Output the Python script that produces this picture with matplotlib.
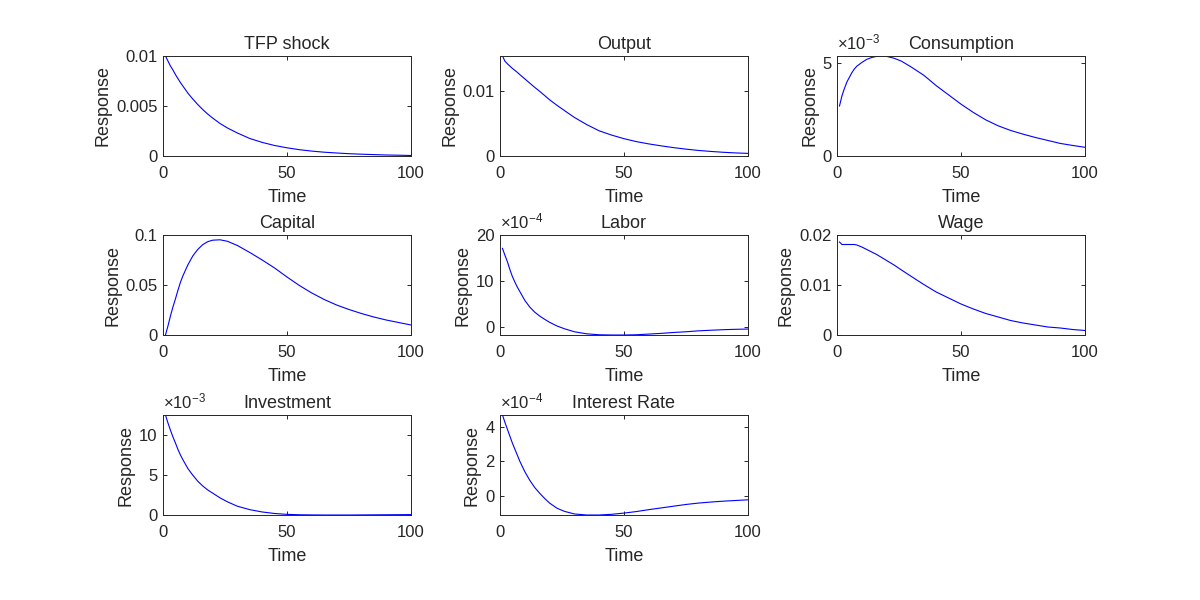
import numpy as np
import matplotlib
matplotlib.use("Agg")
import matplotlib.pyplot as plt
from matplotlib.ticker import FuncFormatter, FixedLocator

plt.rcParams["font.family"] = ["Liberation Sans", "DejaVu Sans"]
plt.rcParams["mathtext.fontset"] = "custom"
plt.rcParams["mathtext.rm"] = "Liberation Sans"
plt.rcParams["mathtext.it"] = "Liberation Sans:italic"
plt.rcParams["mathtext.default"] = "regular"

# ---------------- data ----------------
periods = [1, 2, 3, 4, 5, 6, 7, 8, 10, 12, 14, 16, 18, 20, 23, 26, 30, 35, 40, 45, 50,
           55, 60, 65, 70, 75, 80, 85, 90, 95, 100]

tfp_shock = np.array([10.0, 9.5, 9.0, 8.6, 8.15, 7.75, 7.35, 7.0, 6.3, 5.7, 5.15, 4.65, 4.2, 3.8,
                      3.25, 2.8, 2.3, 1.75, 1.36, 1.05, 0.82, 0.63, 0.49, 0.38, 0.30, 0.23, 0.18,
                      0.14, 0.10, 0.08, 0.05]) * 1e-3
output = np.array([15.3, 14.5, 14.1, 13.75, 13.4, 13.1, 12.8, 12.45, 11.8, 11.15, 10.5, 9.9, 9.25,
                   8.6, 7.75, 6.95, 5.9, 4.8, 3.85, 3.2, 2.65, 2.2, 1.85, 1.55, 1.28, 1.05, 0.85,
                   0.7, 0.57, 0.47, 0.4]) * 1e-3
consumption = np.array([2.70, 3.25, 3.65, 4.0, 4.25, 4.5, 4.7, 4.85, 5.05, 5.22, 5.32, 5.38, 5.4,
                        5.38, 5.28, 5.12, 4.8, 4.36, 3.8, 3.3, 2.8, 2.35, 1.95, 1.63, 1.38, 1.18,
                        1.0, 0.84, 0.68, 0.57, 0.47]) * 1e-3
capital = np.array([0.0, 0.009, 0.019, 0.028, 0.036, 0.0445, 0.0525, 0.059, 0.070, 0.079, 0.0855,
                    0.0903, 0.0933, 0.0948, 0.0952, 0.0937, 0.0895, 0.0825, 0.075, 0.067, 0.058,
                    0.0495, 0.042, 0.0355, 0.030, 0.0255, 0.0215, 0.018, 0.015, 0.0125, 0.010])
labor = np.array([17.1, 15.6, 14.2, 12.5, 11.0, 9.8, 8.7, 7.75, 5.85, 4.4, 3.3, 2.45, 1.75, 1.1,
                  0.3, -0.3, -0.95, -1.4, -1.6, -1.65, -1.65, -1.6, -1.45, -1.3, -1.1, -0.95,
                  -0.75, -0.62, -0.5, -0.42, -0.36]) * 1e-4
wage = np.array([0.0186, 0.0181, 0.0181, 0.0181, 0.0181, 0.0181, 0.0181, 0.0180, 0.0176, 0.0171,
                 0.0166, 0.0161, 0.0155, 0.0149, 0.0140, 0.0130, 0.0117, 0.0101, 0.0086, 0.0074,
                 0.0062, 0.0052, 0.0043, 0.0036, 0.0029, 0.0024, 0.0020, 0.0016, 0.0014, 0.0011,
                 0.0009])
investment = np.array([12.5, 11.5, 10.6, 9.75, 9.0, 8.2, 7.5, 6.9, 5.8, 4.95, 4.2, 3.6, 3.1, 2.7,
                       2.1, 1.6, 1.05, 0.62, 0.33, 0.14, 0.03, -0.02, -0.04, -0.05, -0.05, -0.05,
                       -0.04, -0.03, -0.02, -0.01, 0.0]) * 1e-3
interest_rate = np.array([4.68, 4.25, 3.85, 3.45, 3.05, 2.7, 2.35, 2.0, 1.4, 0.9, 0.48, 0.15,
                          -0.15, -0.42, -0.72, -0.9, -1.05, -1.11, -1.11, -1.07, -1.0, -0.91,
                          -0.8, -0.7, -0.6, -0.5, -0.42, -0.36, -0.31, -0.27, -0.23]) * 1e-4

titles = ["TFP shock", "Output", "Consumption", "Capital", "Labor", "Wage",
          "Investment", "Interest Rate"]
series = [tfp_shock, output, consumption, capital, labor, wage, investment, interest_rate]
x_ticks = [0, 50, 100]

# ---------------- layout / style ----------------
TXT = "#262626"
panel_scale = [None, None, 1e-3, None, 1e-4, None, 1e-3, 1e-4]
panel_exp = [None, None, "-3", None, "-4", None, "-3", "-4"]
panel_yticks = [[0, 0.005, 0.01], [0, 0.01], [0, 5e-3], [0, 0.05, 0.1],
                [0, 10e-4, 20e-4], [0, 0.01, 0.02], [0, 5e-3, 10e-3], [0, 2e-4, 4e-4]]
panel_ylim = [(0, 0.01), (0, 0.0153), (0, 5.4e-3), (0, 0.1),
              (-1.65e-4, 20e-4), (0, 0.02), (-0.05e-3, 12.5e-3), (-1.11e-4, 4.68e-4)]

fig = plt.figure(figsize=(12, 6), dpi=100)
W, H = 1200.0, 600.0
col_left = [163, 500, 837]
row_top = [56, 235, 415]
ax_w, ax_h = 248, 100

for i, (title, vals) in enumerate(zip(titles, series)):
    r, c = divmod(i, 3)
    left = col_left[c] / W
    bottom = 1 - (row_top[r] + ax_h) / H
    ax = fig.add_axes([left, bottom, ax_w / W, ax_h / H])
    ax.plot(periods, vals, color="#0000ff", lw=0.8)
    ax.set_xlim(0, 100)
    ax.set_ylim(*panel_ylim[i])
    ax.xaxis.set_major_locator(FixedLocator(x_ticks))
    ax.yaxis.set_major_locator(FixedLocator(panel_yticks[i]))
    sc = panel_scale[i]
    if sc is None:
        ax.yaxis.set_major_formatter(FuncFormatter(lambda v, p: "%g" % v))
    else:
        ax.yaxis.set_major_formatter(FuncFormatter(lambda v, p, s=sc: "%g" % round(v / s, 6)))
        ax.text(0.0, 1.035, r"$\times10^{%s}$" % panel_exp[i], transform=ax.transAxes,
                ha="left", va="bottom", fontsize=12, color=TXT)
    for sp in ax.spines.values():
        sp.set_color(TXT)
        sp.set_linewidth(0.7)
    ax.tick_params(direction="in", top=True, right=True, length=3, width=0.7,
                   colors=TXT, labelsize=12)
    ax.tick_params(axis="x", pad=7.5)
    ax.tick_params(axis="y", pad=4)
    ax.set_title(title, fontsize=13, color=TXT, pad=5)
    ax.set_xlabel("Time", fontsize=13, color=TXT, labelpad=5.5)
    ax.set_ylabel("Response", fontsize=13, color=TXT, labelpad=3)

fig.savefig("out.png", dpi=100)
